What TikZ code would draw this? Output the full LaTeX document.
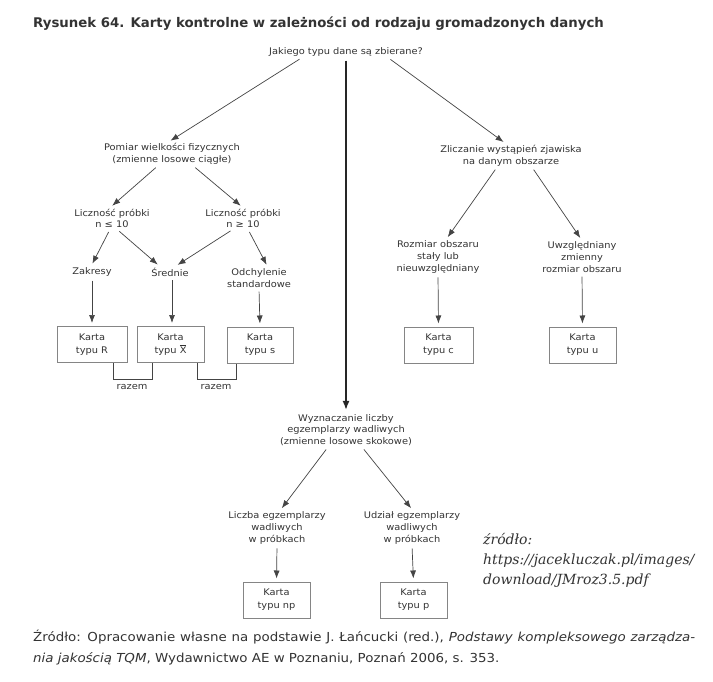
\documentclass[tikz,border=0pt]{standalone}
\usepackage{fontspec}
\setmainfont{DejaVu Sans}[FakeStretch=1.08]
\newfontfamily\titlefont{DejaVu Sans}
\newfontfamily\notefont{DejaVu Serif}
\usetikzlibrary{arrows.meta}
\definecolor{txtgray}{HTML}{333333}
\definecolor{arrgray}{HTML}{444444}
\definecolor{boxgray}{HTML}{858585}

\begin{document}
\begin{tikzpicture}[x=1pt,y=-1pt,
    lbl/.style={align=center,font=\fontsize{9.1}{11.8}\selectfont,text=txtgray,inner sep=1pt},
    karta/.style={draw=boxgray,line width=1pt,minimum width=67pt,minimum height=36pt,align=center,
        font=\fontsize{9.1}{12.8}\selectfont,text=txtgray,inner sep=0pt},
    arr/.style={draw=arrgray,line width=0.7pt,-{Latex[length=8pt,width=6pt]},shorten <=3pt,shorten >=3pt},
    mainarr/.style={draw=black!85,line width=1.6pt,-{Latex[length=9pt,width=7pt]},shorten <=3pt,shorten >=3pt},
    razemline/.style={draw=arrgray,line width=0.7pt}]
\useasboundingbox[fill=white] (0,0) rectangle (713,681);

\node[anchor=west,font=\titlefont\bfseries\fontsize{13.3}{15}\selectfont,text=txtgray,inner sep=0pt] (title) at (33,24)
    {Rysunek 64. Karty kontrolne w zależności od rodzaju gromadzonych danych};

\node[lbl] (q) at (346,52) {Jakiego typu dane są zbierane?};

\node[lbl] (pomiar) at (172,154) {Pomiar wielkości fizycznych\\(zmienne losowe ciągłe)};
\node[lbl] (lp1) at (112,218.5) {Liczność próbki\\n ≤ 10};
\node[lbl] (lp2) at (243,218.5) {Liczność próbki\\n ≥ 10};
\node[lbl] (zak) at (92,272) {Zakresy};
\node[lbl] (sred) at (170,272) {Średnie};
\node[lbl] (odch) at (259,278) {Odchylenie\\standardowe};

\node[karta,minimum width=70pt] (boxR) at (92,344.5) {Karta\\typu R};
\node[karta] (boxX) at (170.5,344.5) {Karta\\typu $\overline{\hbox{X}}$};
\node[karta,minimum width=66pt] (boxS) at (260,345) {Karta\\typu s};

\node[lbl] (zlicz) at (511,155.5) {Zliczanie wystąpień zjawiska\\na danym obszarze};
\node[lbl] (rozm) at (438,257) {Rozmiar obszaru\\stały lub\\nieuwzględniany};
\node[lbl] (uwzg) at (582,257) {Uwzględniany\\zmienny\\rozmiar obszaru};
\node[karta,minimum width=69pt] (boxC) at (438.5,345) {Karta\\typu c};
\node[karta] (boxU) at (582.5,345) {Karta\\typu u};

\node[lbl] (wyz) at (346,430) {Wyznaczanie liczby\\egzemplarzy wadliwych\\(zmienne losowe skokowe)};
\node[lbl] (licz) at (277,528) {Liczba egzemplarzy\\wadliwych\\w próbkach};
\node[lbl] (udz) at (412,528) {Udział egzemplarzy\\wadliwych\\w próbkach};
\node[karta] (boxNP) at (276.5,600) {Karta\\typu np};
\node[karta] (boxP) at (413.5,600) {Karta\\typu p};

\node[lbl] (raz1) at (132,387) {razem};
\node[lbl] (raz2) at (216,387) {razem};

\node[anchor=north west,align=left,font=\notefont\itshape\fontsize{14}{20}\selectfont,text=txtgray,inner sep=0pt] (note) at (483,533)
    {źródło:\\https://jacekluczak.pl/images/\\download/JMroz3.5.pdf};

\node[anchor=west,font=\fontsize{12.4}{14}\selectfont,text=txtgray,inner sep=0pt] (src1) at (33,637)
    {\makebox[662pt][s]{Źródło: Opracowanie własne na podstawie J. Łańcucki (red.), \textit{Podstawy kompleksowego zarządza-}}};
\node[anchor=west,font=\fontsize{12.4}{14}\selectfont,text=txtgray,inner sep=0pt] (src2) at (33,659)
    {\textit{nia jakością TQM}, Wydawnictwo AE w Poznaniu, Poznań 2006, s. 353.};

\draw[arr] ([xshift=-44pt]q.south) -- ([xshift=-4pt]pomiar.north);
\draw[mainarr] (q.south) -- (wyz.north);
\draw[arr] ([xshift=42pt]q.south) -- ([xshift=-5pt]zlicz.north);

\draw[arr] ([xshift=-14pt]pomiar.south) -- ([xshift=-2pt]lp1.north);
\draw[arr] ([xshift=21pt]pomiar.south) -- (lp2.north);
\draw[arr] ([xshift=-2pt]lp1.south) -- ([xshift=-1pt]zak.north);
\draw[arr] ([xshift=5pt]lp1.south) -- ([xshift=-10pt]sred.north);
\draw[arr] ([xshift=-10pt]lp2.south) -- ([xshift=5pt]sred.north);
\draw[arr] ([xshift=5pt]lp2.south) -- ([xshift=9pt]odch.north);
\draw[arr] (zak.south) -- (boxR.north);
\draw[arr] ([xshift=2pt]sred.south) -- ([xshift=1.5pt]boxX.north);
\draw[arr] (odch.south) -- (boxS.north);

\draw[razemline] ([xshift=21pt]boxR.south) -- ++(0,16) -| ([xshift=-18.5pt]boxX.south);
\draw[razemline] ([xshift=26.5pt]boxX.south) -- ++(0,16) -| ([xshift=-24pt]boxS.south);

\draw[arr] ([xshift=-14pt]zlicz.south) -- ([xshift=8pt]rozm.north);
\draw[arr] ([xshift=21pt]zlicz.south) -- (uwzg.north);
\draw[arr] (rozm.south) -- (boxC.north);
\draw[arr] (uwzg.south) -- (boxU.north);

\draw[arr] ([xshift=-18pt]wyz.south) -- ([xshift=3pt]licz.north);
\draw[arr] ([xshift=16pt]wyz.south) -- ([xshift=1pt]udz.north);
\draw[arr] (licz.south) -- (boxNP.north);
\draw[arr] (udz.south) -- (boxP.north);
\end{tikzpicture}
\end{document}
